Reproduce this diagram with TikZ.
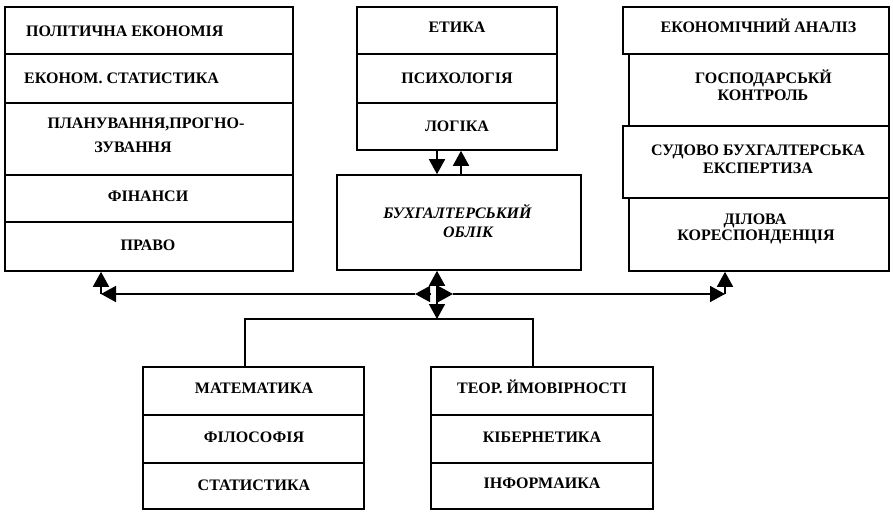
\documentclass[tikz,border=0pt]{standalone}
\usepackage{fontspec}
\setmainfont{Liberation Serif}
\usetikzlibrary{arrows.meta}
\begin{document}
\begin{tikzpicture}[x=1pt,y=-1pt,
  cell/.style={draw, line width=1.6pt, inner sep=0pt},
  txt/.style={font=\fontsize{16}{18}\selectfont\bfseries, inner sep=0pt, anchor=base},
  txtl/.style={txt, anchor=base west},
  txti/.style={txt, font=\fontsize{16}{18}\selectfont\bfseries\itshape},
  ln/.style={line width=1.6pt},
  hd/.tip={Triangle[length=15pt,width=16pt]},
  arr/.style={ln, -hd},
]
\useasboundingbox (0,0) rectangle (893,511);
% left column
\node[cell, minimum width=288pt, minimum height=47pt] (L1) at (149,30.5) {};
\node[cell, minimum width=288pt, minimum height=49pt] (L2) at (149,78.5) {};
\node[cell, minimum width=288pt, minimum height=72pt] (L3) at (149,139) {};
\node[cell, minimum width=288pt, minimum height=47pt] (L4) at (149,198.5) {};
\node[cell, minimum width=288pt, minimum height=49pt] (L5) at (149,246.5) {};
\node[txtl] (tL1) at (26,37) {ПОЛІТИЧНА ЕКОНОМІЯ};
\node[txtl] (tL2) at (24,83) {ЕКОНОМ. СТАТИСТИКА};
\node[txt] (tL3a) at (146,128) {ПЛАНУВАННЯ,ПРОГНО-};
\node[txt] (tL3b) at (133,152) {ЗУВАННЯ};
\node[txt] (tL4) at (148,201.5) {ФІНАНСИ};
\node[txt] (tL5) at (148,250) {ПРАВО};
% centre column
\node[cell, minimum width=200pt, minimum height=47pt] (G1) at (457,30.5) {};
\node[cell, minimum width=200pt, minimum height=49pt] (G2) at (457,78.5) {};
\node[cell, minimum width=200pt, minimum height=47pt] (G3) at (457,126.5) {};
\node[txt] (tG1) at (457,33) {ЕТИКА};
\node[txt] (tG2) at (457,83) {ПСИХОЛОГІЯ};
\node[txt] (tG3) at (457,131) {ЛОГІКА};
\node[cell, minimum width=244pt, minimum height=95pt] (B) at (459,222.5) {};
\node[txti] (tBa) at (457.5,218) {БУХГАЛТЕРСЬКИЙ};
\node[txti] (tBb) at (468,237) {ОБЛІК};
% right column
\node[cell, minimum width=266pt, minimum height=47pt] (R1) at (756,30.5) {};
\node[cell, minimum width=260pt, minimum height=72pt] (R2) at (759,90) {};
\node[cell, minimum width=266pt, minimum height=72pt] (R3) at (756,162) {};
\node[cell, minimum width=260pt, minimum height=73pt] (R4) at (759,234.5) {};
\node[txt] (tR1) at (758.5,33) {ЕКОНОМІЧНИЙ АНАЛІЗ};
\node[txt] (tR2a) at (763.5,83) {ГОСПОДАРСЬКЙ};
\node[txt] (tR2b) at (763,100) {КОНТРОЛЬ};
\node[txt] (tR3a) at (758,155) {СУДОВО БУХГАЛТЕРСЬКА};
\node[txt] (tR3b) at (758,173) {ЕКСПЕРТИЗА};
\node[txt] (tR4a) at (755,224) {ДІЛОВА};
\node[txt] (tR4b) at (756,240) {КОРЕСПОНДЕНЦІЯ};
% bottom
\node[cell, minimum width=221pt, minimum height=48pt] (M1) at (253.5,391) {};
\node[cell, minimum width=221pt, minimum height=48pt] (M2) at (253.5,439) {};
\node[cell, minimum width=221pt, minimum height=46pt] (M3) at (253.5,486) {};
\node[txt] (tM1) at (254,393) {МАТЕМАТИКА};
\node[txt] (tM2) at (254,442) {ФІЛОСОФІЯ};
\node[txt] (tM3) at (254,490) {СТАТИСТИКА};
\node[cell, minimum width=222pt, minimum height=48pt] (T1) at (542,391) {};
\node[cell, minimum width=222pt, minimum height=48pt] (T2) at (542,439) {};
\node[cell, minimum width=222pt, minimum height=46pt] (T3) at (542,486) {};
\node[txt] (tT1) at (542,393) {ТЕОР. ЙМОВІРНОСТІ};
\node[txt] (tT2) at (542,442) {КІБЕРНЕТИКА};
\node[txt] (tT3) at (542,488) {ІНФОРМАИКА};
% connectors
\coordinate (ga) at ([xshift=-20pt]G3.south);
\coordinate (gb) at ([xshift=4pt]G3.south);
\draw[arr] (ga) -- (ga |- B.north);
\draw[arr] (gb |- B.north) -- (gb);
\coordinate (hub) at (437,294);
\coordinate (bus) at (437,319);
\coordinate (lc) at (101,294);
\coordinate (rc) at (725,294);
\draw[ln, hd-hd] (hub |- B.south) -- (bus);
\draw[arr] ([xshift=-7pt]hub) -- ([xshift=-22pt]hub);
\draw[arr] (hub) -- ([xshift=16pt]hub);
\draw[arr] ([xshift=-22pt]hub) -- (lc);
\draw[arr] (lc) -- (lc |- L5.south);
\draw[arr] ([xshift=16pt]hub) -- (rc);
\draw[arr] (rc) -- (rc |- R4.south);
\coordinate (ma) at ([xshift=-8.5pt]M1.north);
\coordinate (ta) at ([xshift=-9pt]T1.north);
\draw[ln] (ma) |- (bus) -| (ta);
\end{tikzpicture}
\end{document}
